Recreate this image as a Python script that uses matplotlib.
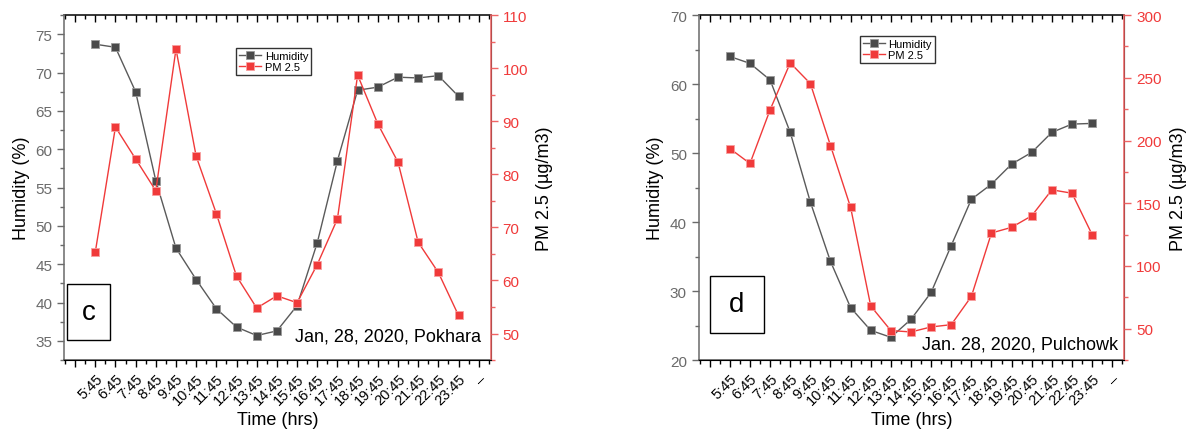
import matplotlib
matplotlib.use("Agg")
import matplotlib.pyplot as plt
from matplotlib.ticker import MultipleLocator, FixedLocator, NullFormatter

plt.rcParams['font.family'] = ['Liberation Sans', 'DejaVu Sans']

# x categories (last one is a dash in the original)
times = ['5:45', '6:45', '7:45', '8:45', '9:45', '10:45', '11:45', '12:45', '13:45',
         '14:45', '15:45', '16:45', '17:45', '18:45', '19:45', '20:45', '21:45',
         '22:45', '23:45']
tick_labels = [''] + times + ['–']

# panel c - Pokhara
hum_c = [73.7, 73.3, 67.5, 55.9, 47.1, 43.0, 39.2, 36.8, 35.7, 36.3, 39.6, 47.8,
         58.5, 67.7, 68.1, 69.4, 69.3, 69.6, 66.9]
pm_c = [65.3, 88.9, 82.9, 76.9, 103.6, 83.4, 72.6, 60.8, 54.8, 57.1, 55.8, 63.0,
        71.6, 98.7, 89.5, 82.3, 67.2, 61.5, 53.4]

# panel d - Pulchowk
hum_d = [64.0, 63.0, 60.6, 53.0, 42.9, 34.3, 27.6, 24.3, 23.3, 25.9, 29.8, 36.6,
         43.3, 45.5, 48.4, 50.1, 53.0, 54.2, 54.3]
pm_d = [193.6, 181.7, 224.5, 261.9, 245.4, 196.0, 146.7, 68.1, 48.5, 47.4, 51.4,
        53.2, 75.7, 126.3, 130.8, 140.0, 160.7, 158.0, 125.0]

GRAY = '#4a4a4a'
LINEGRAY = '#5a5a5a'
RED = '#f03a3a'
AXRED = '#f06464'


def draw_panel(pos, hum, pm, hlim, hmaj, pmlim, pmmaj, letter, letter_box, note, note_xy,
               leg_anchor):
    ax = fig.add_axes(pos)
    ax2 = ax.twinx()
    x = list(range(len(times)))

    l1, = ax.plot(x, hum, color=LINEGRAY, lw=1.0, marker='s', ms=5.5,
                  mfc=GRAY, mec='#9a9a9a', mew=0.6, label='Humidity')
    l2, = ax2.plot(x, pm, color=RED, lw=1.0, marker='s', ms=5.5,
                   mfc=RED, mec='#f7a0a0', mew=0.6, label='PM 2.5')

    ax.set_xlim(-1.55, 19.6)
    ax.set_ylim(*hlim)
    ax2.set_ylim(*pmlim)

    major = FixedLocator(range(-1, 20))
    minor = FixedLocator([i + 0.5 for i in range(-2, 20)])
    ax.xaxis.set_major_locator(major)
    ax.xaxis.set_minor_locator(minor)
    ax.set_xticklabels(tick_labels, rotation=45, ha='right', va='top',
                       rotation_mode='anchor', fontsize=10.5)
    ax.tick_params(axis='x', which='major', length=5, width=1, direction='out', pad=3)
    ax.tick_params(axis='x', which='minor', length=3, width=1, direction='out')

    # top spine: ticks pointing inside, no labels
    top = ax.secondary_xaxis('top')
    top.xaxis.set_major_locator(FixedLocator(range(-1, 20)))
    top.xaxis.set_minor_locator(FixedLocator([i + 0.5 for i in range(-2, 20)]))
    top.xaxis.set_major_formatter(NullFormatter())
    top.tick_params(which='major', direction='in', length=5, width=1)
    top.tick_params(which='minor', direction='in', length=3, width=1)
    top.spines['top'].set_linewidth(1.1)

    ax.yaxis.set_major_locator(MultipleLocator(hmaj))
    ax.yaxis.set_minor_locator(MultipleLocator(hmaj / 2))
    ax.tick_params(axis='y', which='major', length=5, width=1, colors='#6a6a6a',
                   labelsize=11)
    ax.tick_params(axis='y', which='minor', length=3, width=1, colors='#6a6a6a')

    ax2.yaxis.set_major_locator(MultipleLocator(pmmaj))
    ax2.yaxis.set_minor_locator(MultipleLocator(pmmaj / 2))
    ax2.tick_params(axis='y', which='major', length=5, width=1, colors=AXRED,
                    labelsize=11, labelcolor=RED)
    ax2.tick_params(axis='y', which='minor', length=3, width=1, colors=AXRED)

    ax.spines['left'].set_color('#6a6a6a')
    ax.spines['bottom'].set_color('#555555')
    ax.spines['top'].set_visible(False)
    ax2.spines['top'].set_visible(False)
    ax2.spines['right'].set_color(AXRED)
    ax2.spines['left'].set_visible(False)
    for s in ['left', 'bottom']:
        ax.spines[s].set_linewidth(1.1)
    ax2.spines['right'].set_linewidth(1.1)

    ax.set_ylabel('Humidity (%)', fontsize=13, labelpad=4)
    ax.set_xlabel('Time (hrs)', fontsize=13, labelpad=3)
    ax2.set_ylabel('PM 2.5 (µg/m3)', fontsize=13, labelpad=6)

    leg = ax.legend([l1, l2], ['Humidity', 'PM 2.5'], loc='upper left',
                    bbox_to_anchor=leg_anchor, fontsize=8, frameon=True,
                    fancybox=False, edgecolor='black', borderpad=0.25,
                    handlelength=2.0, handletextpad=0.3, labelspacing=0.15,
                    borderaxespad=0)
    leg.get_frame().set_linewidth(1.0)

    bx, by, bw, bh = letter_box
    ax.add_patch(plt.Rectangle((bx, by), bw, bh, transform=fig.transFigure,
                               fill=False, edgecolor='black', lw=1.0, zorder=5))
    fig.text(bx + bw / 2, by + bh / 2, letter, ha='center', va='center', fontsize=20)
    fig.text(note_xy[0], note_xy[1], note, ha='right', va='center', fontsize=13)


fig = plt.figure(figsize=(11.89, 4.35), dpi=100)

draw_panel([0.0538, 0.170, 0.359, 0.793], hum_c, pm_c, (32.5, 77.5), 5, (45, 110), 10,
           'c', (67 / 1189, 1 - 341 / 435, 43 / 1189, 56 / 435),
           'Jan, 28, 2020, Pokhara', (481 / 1189, 1 - 337 / 435), (0.404, 0.905))
draw_panel([0.5876, 0.170, 0.358, 0.793], hum_d, pm_d, (20, 70), 10, (25, 300), 50,
           'd', (710 / 1189, 1 - 334 / 435, 54 / 1189, 57 / 435),
           'Jan. 28, 2020, Pulchowk', (1118 / 1189, 1 - 345 / 435), (0.379, 0.94))

fig.savefig('out.png', dpi=100)
